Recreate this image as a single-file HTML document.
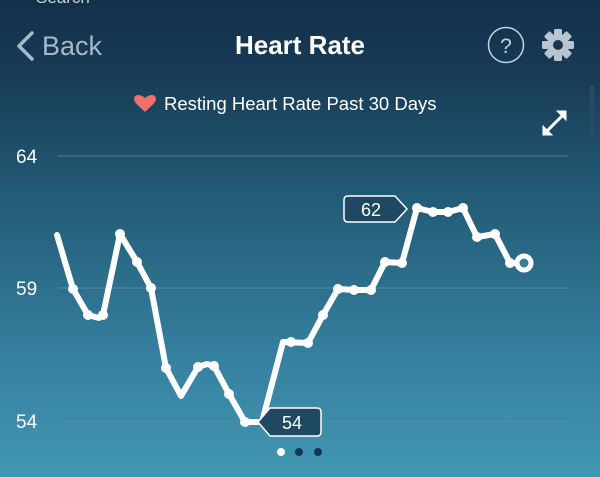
<!DOCTYPE html>
<html><head><meta charset="utf-8"><style>
html,body{margin:0;padding:0;}
body{width:600px;height:477px;overflow:hidden;background:linear-gradient(180deg,#13304a 0%,#183a55 15%,#215a74 40%,#3680a0 75%,#4297b2 100%);font-family:"Liberation Sans",sans-serif;position:relative;}
</style></head><body>
<svg width="600" height="477" viewBox="0 0 600 477" style="position:absolute;left:0;top:0">
<text x="36" y="3" fill="#c9d3dc" font-size="17">Search</text>
<path d="M32 33 L19 46 L32 59" fill="none" stroke="#a9b8c6" stroke-width="3.5" stroke-linecap="round" stroke-linejoin="round"/>
<text x="42" y="55" fill="#a9b8c6" font-size="27">Back</text>
<text x="300" y="54" fill="#fff" font-size="26" font-weight="bold" text-anchor="middle">Heart Rate</text>
<circle cx="506" cy="45" r="17.5" fill="none" stroke="#c9d3dc" stroke-width="1.5"/>
<text x="506" y="53" fill="#c9d3dc" font-size="21" text-anchor="middle">?</text>
<g transform="translate(558,45)" fill="#b8c4cf">
<circle r="11"/>
<g><rect x="-4" y="-16" width="8" height="32" rx="1.5"/><rect x="-4" y="-16" width="8" height="32" rx="1.5" transform="rotate(45)"/><rect x="-4" y="-16" width="8" height="32" rx="1.5" transform="rotate(90)"/><rect x="-4" y="-16" width="8" height="32" rx="1.5" transform="rotate(135)"/></g>
<circle r="5" fill="#183650"/>
</g>
<path d="M145 112 C139 106 134 103 134 99 C134 95 139 93 145 98 C151 93 156 95 156 99 C156 103 151 106 145 112 Z" fill="#ef6f6a"/>
<text x="164" y="110" fill="#fff" font-size="18.5">Resting Heart Rate Past 30 Days</text>
<g stroke="#fff" stroke-width="3" fill="#fff">
<line x1="547" y1="131" x2="563" y2="115"/>
<path d="M566 111 L566 120 L557 111 Z" stroke-width="1"/>
<path d="M543 135 L543 126 L552 135 Z" stroke-width="1"/>
</g>
<rect x="590" y="85" width="4" height="60" rx="2" fill="#2a4a63"/>
<g stroke="#5d8fa8" stroke-width="1" opacity="0.8">
<line x1="57" y1="156" x2="568" y2="156"/>
<line x1="57" y1="288" x2="568" y2="288"/>
<line x1="57" y1="421" x2="568" y2="421"/>
</g>
<g fill="#fff" font-size="19">
<text x="16" y="163">64</text>
<text x="16" y="295">59</text>
<text x="16" y="428">54</text>
</g>
<polyline fill="none" stroke="#fff" stroke-width="6" stroke-linejoin="round" stroke-linecap="round" points="57,235 73,289 88,315 99,318 103,315 120,234 137,262 151,288 166,368 181,396 198,367 207,364 214,366 229,394 245,422 254,422 262,422 283,342 308,343 323,315 338,289 354,290 371,290 385,262 402,263 417,208 433,212 448,212 463,208 477,237 495,234 510,263 524,263"/>
<g fill="#fff">
<circle cx="73" cy="289" r="5"/><circle cx="88" cy="315" r="5"/><circle cx="103" cy="315" r="5"/><circle cx="120" cy="234" r="5"/><circle cx="137" cy="262" r="5"/><circle cx="151" cy="288" r="5"/><circle cx="166" cy="368" r="5"/><circle cx="198" cy="367" r="5"/><circle cx="214" cy="366" r="5"/><circle cx="229" cy="394" r="5"/><circle cx="245" cy="422" r="5"/><circle cx="291" cy="342" r="5"/><circle cx="308" cy="343" r="5"/><circle cx="323" cy="315" r="5"/><circle cx="338" cy="289" r="5"/><circle cx="354" cy="290" r="5"/><circle cx="371" cy="290" r="5"/><circle cx="385" cy="262" r="5"/><circle cx="402" cy="263" r="5"/><circle cx="417" cy="208" r="5"/><circle cx="433" cy="212" r="5"/><circle cx="448" cy="212" r="5"/><circle cx="463" cy="208" r="5"/><circle cx="477" cy="237" r="5"/><circle cx="495" cy="234" r="5"/><circle cx="510" cy="263" r="5"/>
</g>
<circle cx="524" cy="263" r="7" fill="#3a7c97" stroke="#fff" stroke-width="5"/>
<path d="M258 422 L270 408 L317 408 Q321 408 321 412 L321 432 Q321 436 317 436 L270 436 Z" fill="#1f4963" stroke="#fff" stroke-width="1.5"/>
<text x="292" y="429" fill="#fff" font-size="18" text-anchor="middle">54</text>
<path d="M407 209 L395 196 L348 196 Q344 196 344 200 L344 218 Q344 222 348 222 L395 222 Z" fill="#1f4963" stroke="#fff" stroke-width="1.5"/>
<text x="371" y="216" fill="#fff" font-size="18" text-anchor="middle">62</text>
<circle cx="281" cy="452" r="4" fill="#fff"/>
<circle cx="299" cy="452" r="4" fill="#153651"/>
<circle cx="318" cy="452" r="4" fill="#153651"/>
</svg>
</body></html>
